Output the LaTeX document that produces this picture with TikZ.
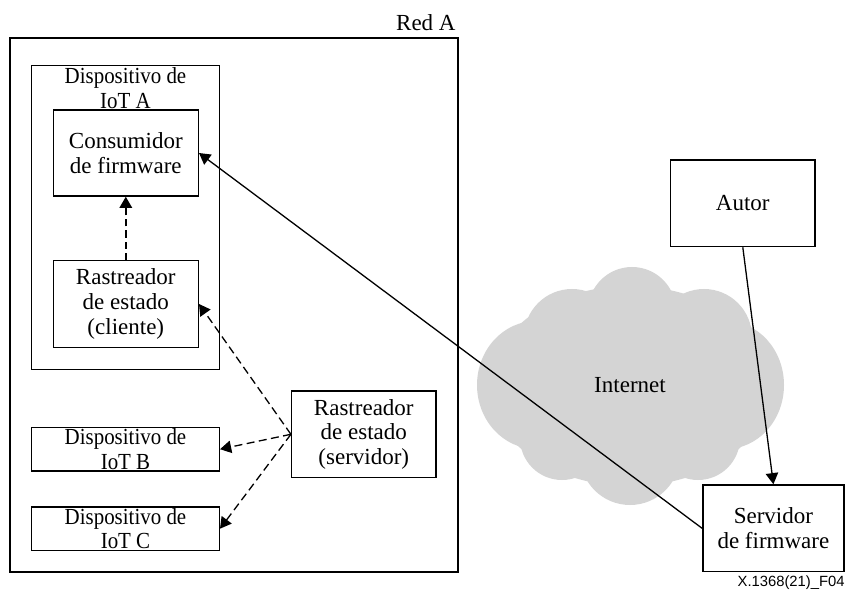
\documentclass[tikz,border=0pt]{standalone}
\usepackage{fontspec}
\setmainfont{Liberation Serif}
\newfontfamily\capfont{Liberation Sans}
\usetikzlibrary{arrows.meta}
\definecolor{cloudgray}{RGB}{212,212,212}
% slightly condensed text for the narrow device labels
\newcommand{\narrow}[1]{\scalebox{0.91}[1]{#1}}
\begin{document}
\begin{tikzpicture}[
  x=0.5pt, y=-0.5pt,
  every node/.style={font=\fontsize{11.5}{12.4}\selectfont},
  box/.style={draw, line width=0.7pt, inner sep=0pt, align=center},
  tip/.style={-{Triangle[length=5.6pt,width=6.2pt]}},
  link/.style={line width=0.65pt, tip},
  dlink/.style={line width=0.65pt, tip, dash pattern=on 4pt off 2.2pt},
  hlink/.style={line width=1pt, tip, dash pattern=on 3.6pt off 2pt},
]
\useasboundingbox (0,0) rectangle (846,593);

% Internet cloud: union of filled lobes, no outline
\begin{scope}[fill=cloudgray]
  \fill (630,386) ellipse [x radius=140, y radius=100];
  \fill (632,311) circle [radius=44];
  \fill (572,337) circle [radius=48];
  \fill (704,337) circle [radius=48];
  \fill (536,385) ellipse [x radius=59, y radius=64];
  \fill (726,385) ellipse [x radius=58, y radius=64];
  \fill (562,438) circle [radius=42];
  \fill (630,455) circle [radius=50];
  \fill (698,438) circle [radius=42];
\end{scope}
\node (inet) at (630,385) {Internet};

% Network A
\node (redA) [box, minimum width=224pt, minimum height=267pt] at (234,305) {};
\node (redAlbl) [anchor=base east, inner sep=0pt] at (456,31) {Red A};

% IoT device A and its components
\node (devA) [box, minimum width=93.8pt, minimum height=151.8pt] at (125.5,217.5) {};
\node (devAlbl) [anchor=north, inner sep=0pt, align=center] at (125.5,67) {\narrow{Dispositivo de}\\\narrow{IoT A}};
\node (cons) [box, minimum width=72.5pt, minimum height=43pt] at (125.8,153) {Consumidor\\de firmware};
\node (rcli) [box, minimum width=72.5pt, minimum height=43.2pt] at (125.8,304) {Rastreador\\de estado\\(cliente)};

% Other IoT devices
\node (devB) [box, minimum width=93.8pt, minimum height=21.8pt] at (125.5,449.2) {\narrow{Dispositivo de}\\\narrow{IoT B}};
\node (devC) [box, minimum width=93.8pt, minimum height=21.7pt] at (125.5,528.7) {\narrow{Dispositivo de}\\\narrow{IoT C}};

% Status tracker server
\node (rsrv) [box, minimum width=72.2pt, minimum height=43.3pt] at (363.8,434.3) {Rastreador\\de estado\\(servidor)};

% Author and firmware server
\node (autor) [box, minimum width=72.2pt, minimum height=43.3pt] at (742.8,203.3) {Autor};
\node (srvfw) [box, minimum width=70.6pt, minimum height=43.3pt] at (773.4,528.3) {Servidor\\de firmware};

% Connectors
\draw[hlink] (rcli.north) -- (cons.south);
\draw[dlink] (rsrv.west) -- (rcli.east);
\draw[dlink] (rsrv.west) -- (devB.east);
\draw[dlink] (rsrv.west) -- (devC.east);
\draw[link] (srvfw.west) -- (cons.east);
\draw[link] (autor.south) -- (srvfw.north);

% Figure reference
\node (figref) [anchor=east, inner sep=0pt, font=\capfont\fontsize{7.4}{8}\selectfont] at (845,583) {X.1368(21)\_F04};
\end{tikzpicture}
\end{document}
